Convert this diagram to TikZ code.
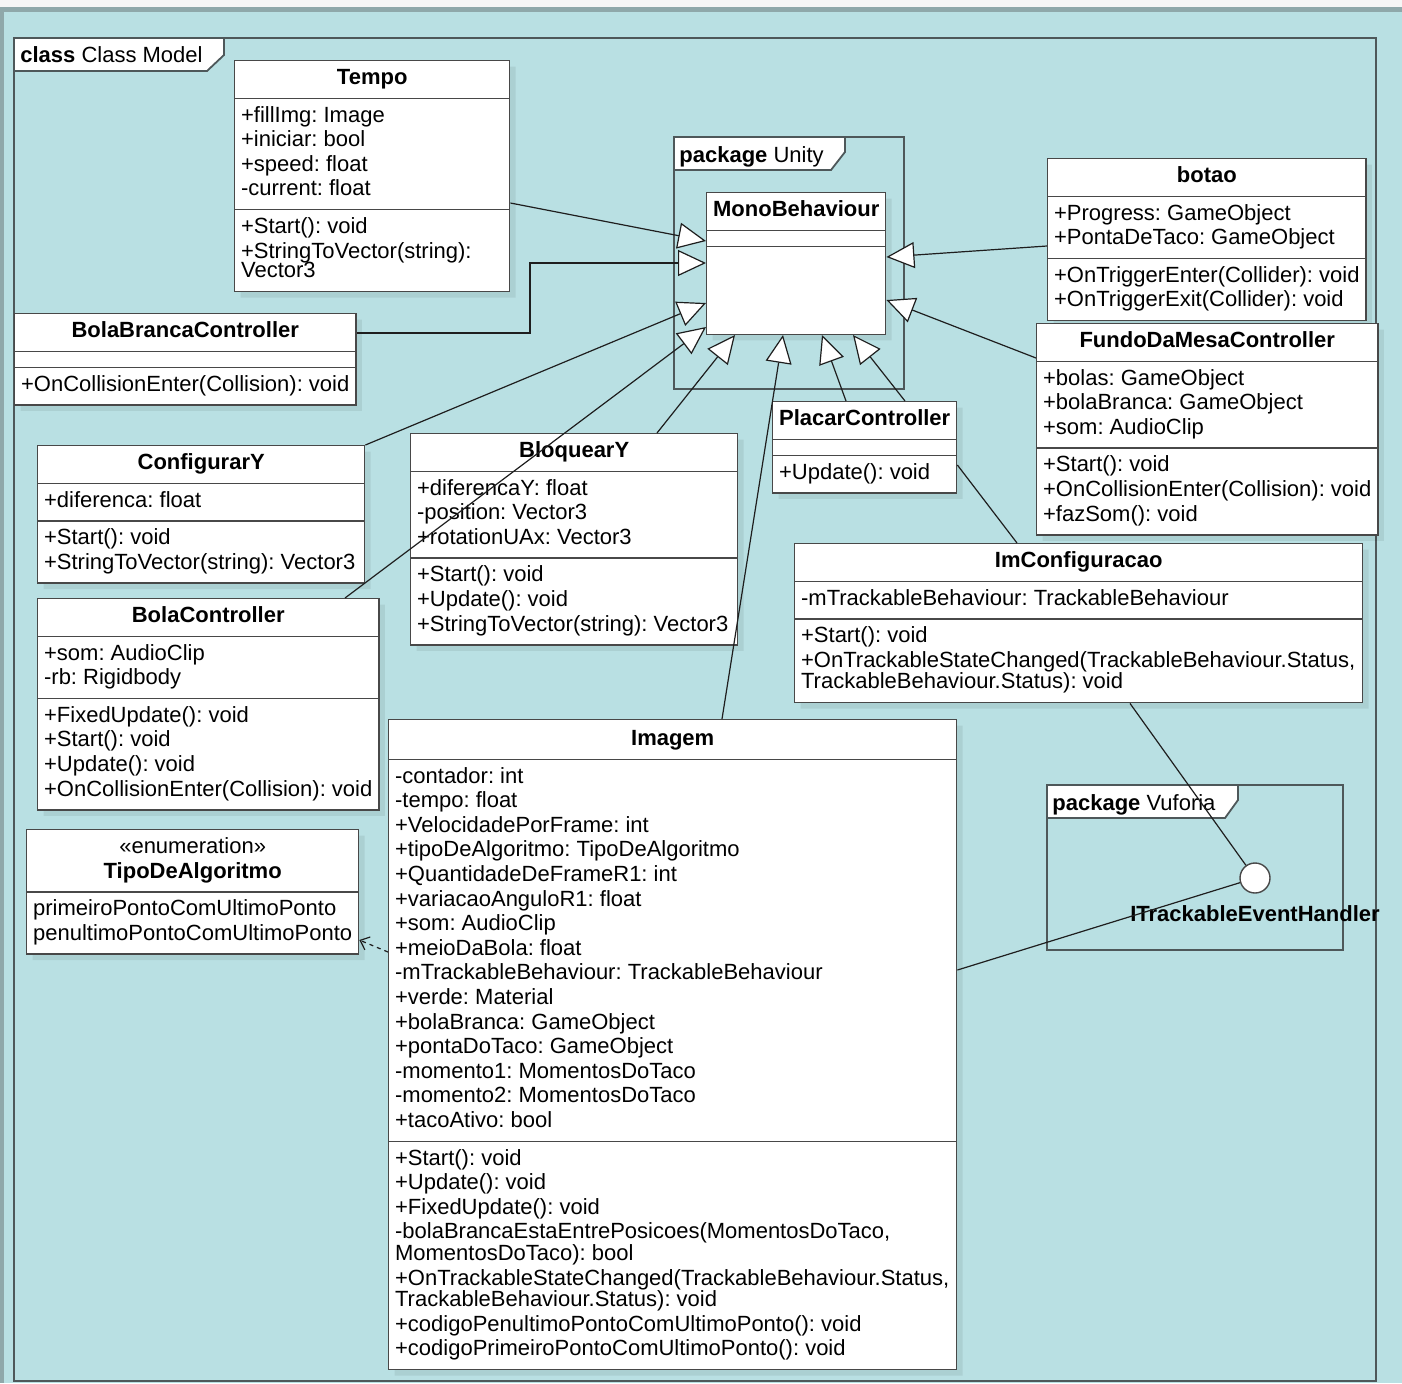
\documentclass[tikz,border=0pt]{standalone}
\usepackage{fontspec}
\setmainfont{Liberation Sans}
\usetikzlibrary{arrows.meta,shapes.multipart,shadows}
\definecolor{bg_teal}{RGB}{185,224,227}
\definecolor{border_gray}{RGB}{143,168,170}
\definecolor{top_white}{RGB}{246,246,246}
\definecolor{frame_gray}{RGB}{78,88,90}
\definecolor{box_gray}{RGB}{72,72,72}
\definecolor{edge_dark}{RGB}{30,30,30}
\newcommand{\umlfont}{\fontsize{11}{12.3}\selectfont\frenchspacing}

\begin{document}
\begin{tikzpicture}[x=0.5pt,y=-0.5pt,font=\umlfont]
    \tikzstyle{cls}=[draw=box_gray, line width=0.7pt, fill=white, anchor=north west,
        rectangle split, rectangle split parts=3, rectangle split part align={center,left,left},
        rectangle split empty part height=1.5pt, rectangle split empty part depth=0pt,
        inner xsep=3.2pt, inner ysep=2.9pt, align=left,
        drop shadow={shadow xshift=3pt,shadow yshift=-3pt,fill=black,opacity=0.07}]
    \tikzstyle{pkgframe}=[draw=frame_gray, line width=0.9pt]
    \tikzstyle{gen}=[draw=edge_dark, line width=0.6pt, -{Triangle[fill=white,length=14pt,width=13pt]}]
    \tikzstyle{umlline}=[draw=edge_dark, line width=0.6pt]
    \tikzstyle{dep}=[draw=edge_dark, line width=0.6pt, dash pattern=on 2pt off 2pt, -{Straight Barb[length=4pt,width=7pt]}]

    % background and outer frame
    \fill[bg_teal] (0,0) rectangle (1402,1383);
    \fill[top_white] (0,0) rectangle (1402,7);
    \fill[border_gray] (0,7) rectangle (1402,12);
    \fill[border_gray] (0,7) rectangle (4,1383);
    \useasboundingbox (0,0) rectangle (1402,1383);

    \draw[pkgframe] (14,38) rectangle (1376,1381);
    \draw[pkgframe, fill=white] (14,38) -- (224,38) -- (224,55) -- (207,71) -- (14,71) -- cycle;
    \node[anchor=base west, inner sep=0pt] (framelbl) at (20,62) {\textbf{class} Class Model};

    \draw[pkgframe] (674,137) rectangle (904,389);
    \draw[pkgframe, fill=white] (674,137) -- (845,137) -- (845,152) -- (831,170) -- (674,170) -- cycle;
    \node[anchor=base west, inner sep=0pt] (unitylbl) at (679,162) {\textbf{package} Unity};

    \draw[pkgframe] (1047,785) rectangle (1343,950);
    \draw[pkgframe, fill=white] (1047,785) -- (1238,785) -- (1238,800) -- (1225,818) -- (1047,818) -- cycle;
    \node[anchor=base west, inner sep=0pt] (vuforialbl) at (1052,810) {\textbf{package} Vuforia};

    % classes
    \node[cls, minimum width=137.5pt] (tempo) at (234,60)
        {\strut\textbf{Tempo}
         \nodepart{two}\strut+fillImg: Image\\+iniciar: bool\\+speed: float\\-current: float\strut
         \nodepart{three}\strut+Start(): void\\+StringToVector(string):\\[-2.5pt]Vector3\strut};
    \node[cls, minimum width=89.5pt] (mono) at (706,192)
        {\strut\textbf{MonoBehaviour}\nodepart{two}\rule{0pt}{1.5pt}\nodepart{three}\phantom{x}\rule{0pt}{37.5pt}};
    \node[cls, minimum width=159pt] (botao) at (1047,158)
        {\strut\textbf{botao}
         \nodepart{two}\strut+Progress: GameObject\\+PontaDeTaco: GameObject\strut
         \nodepart{three}\strut+OnTriggerEnter(Collider): void\\+OnTriggerExit(Collider): void\strut};
    \node[cls, minimum width=170.5pt] (bolabranca) at (14,313)
        {\strut\textbf{BolaBrancaController}\nodepart{two}\rule{0pt}{1.5pt}%
         \nodepart{three}\strut+OnCollisionEnter(Collision): void\strut};
    \node[cls, minimum width=170pt] (fundo) at (1036,323)
        {\strut\textbf{FundoDaMesaController}
         \nodepart{two}\strut+bolas: GameObject\\+bolaBranca: GameObject\\+som: AudioClip\strut
         \nodepart{three}\strut+Start(): void\\+OnCollisionEnter(Collision): void\\+fazSom(): void\strut};
    \node[cls, minimum width=91.5pt] (placar) at (772,401)
        {\strut\textbf{PlacarController}\nodepart{two}\rule{0pt}{1.5pt}%
         \nodepart{three}\strut+Update(): void\strut};
    \node[cls, minimum width=163.5pt] (configy) at (37,445)
        {\strut\textbf{ConfigurarY}
         \nodepart{two}\strut+diferenca: float\strut
         \nodepart{three}\strut+Start(): void\\+StringToVector(string): Vector3\strut};
    \node[cls, minimum width=163.5pt] (bloqy) at (410,433)
        {\strut\textbf{BloquearY}
         \nodepart{two}\strut+diferencaY: float\\-position: Vector3\\+rotationUAx: Vector3\strut
         \nodepart{three}\strut+Start(): void\\+Update(): void\\+StringToVector(string): Vector3\strut};
    \node[cls, minimum width=169.5pt] (bolactrl) at (37,598)
        {\strut\textbf{BolaController}
         \nodepart{two}\strut+som: AudioClip\\-rb: Rigidbody\strut
         \nodepart{three}\strut+FixedUpdate(): void\\+Start(): void\\+Update(): void\\+OnCollisionEnter(Collision): void\strut};
    \node[cls, minimum width=284pt] (imconf) at (794,543)
        {\strut\textbf{ImConfiguracao}
         \nodepart{two}\strut-mTrackableBehaviour: TrackableBehaviour\strut
         \nodepart{three}\strut+Start(): void\\+OnTrackableStateChanged(TrackableBehaviour.Status,\\[-1.5pt]TrackableBehaviour.Status): void\strut};
    \node[cls, minimum width=284pt] (imagem) at (388,719)
        {\rule{0pt}{9.6pt}\strut\textbf{Imagem}
         \nodepart{two}\strut-contador: int\\-tempo: float\\+VelocidadePorFrame: int\\+tipoDeAlgoritmo: TipoDeAlgoritmo\\
         +QuantidadeDeFrameR1: int\\+variacaoAnguloR1: float\\+som: AudioClip\\+meioDaBola: float\\
         -mTrackableBehaviour: TrackableBehaviour\\+verde: Material\\+bolaBranca: GameObject\\
         +pontaDoTaco: GameObject\\-momento1: MomentosDoTaco\\-momento2: MomentosDoTaco\\+tacoAtivo: bool\strut
         \nodepart{three}\strut+Start(): void\\+Update(): void\\+FixedUpdate(): void\\
         -bolaBrancaEstaEntrePosicoes(MomentosDoTaco,\\[-1.5pt]MomentosDoTaco): bool\\
         +OnTrackableStateChanged(TrackableBehaviour.Status,\\[-1.5pt]TrackableBehaviour.Status): void\\
         +codigoPenultimoPontoComUltimoPonto(): void\\+codigoPrimeiroPontoComUltimoPonto(): void\strut};
    \node[cls, rectangle split parts=2, rectangle split part align={center,left}, minimum width=165pt] (tipo) at (26,829)
        {\begin{tabular}{@{}c@{}}«enumeration»\\\textbf{TipoDeAlgoritmo}\end{tabular}
         \nodepart{two}\strut primeiroPontoComUltimoPonto\\penultimoPontoComUltimoPonto\strut};

    \node[draw=box_gray, fill=white, circle, minimum size=15pt, inner sep=0pt, line width=0.7pt] (ith) at (1255,878) {};
    \node[anchor=base] (ithlbl) at (1255,921) {\textbf{ITrackableEventHandler}};

    % generalizations
    \draw[gen] (tempo.east |- 0,203) -- (mono.west |- 0,241);
    \draw[gen] (bolabranca.east |- 0,333) -| (530,263) -- (mono.west |- 0,263);
    \draw[gen] (configy.north east) -- (mono.west |- 0,303);
    \draw[gen] (bolactrl.north -| 345,0) -- (mono.west |- 0,327);
    \draw[gen] (bloqy.north -| 657,0) -- (mono.south -| 735,0);
    \draw[gen] (imagem.north -| 722,0) -- (mono.south -| 783,0);
    \draw[gen] (placar.north -| 846,0) -- (mono.south -| 822,0);
    \draw[gen] (placar.north -| 905,0) -- (mono.south -| 853,0);
    \draw[gen] (botao.west |- 0,246) -- (mono.east |- 0,257);
    \draw[gen] (fundo.west |- 0,358) -- (mono.east |- 0,300);

    % other links
    \draw[umlline] (placar.east |- 0,465) -- (imconf.north -| 1017,0);
    \draw[umlline] (imconf.south -| 1130,0) -- (ith);
    \draw[umlline] (imagem.east |- 0,970) -- (ith);
    \draw[dep] (imagem.west |- 0,952) -- (tipo.east |- 0,940);
\end{tikzpicture}
\end{document}
